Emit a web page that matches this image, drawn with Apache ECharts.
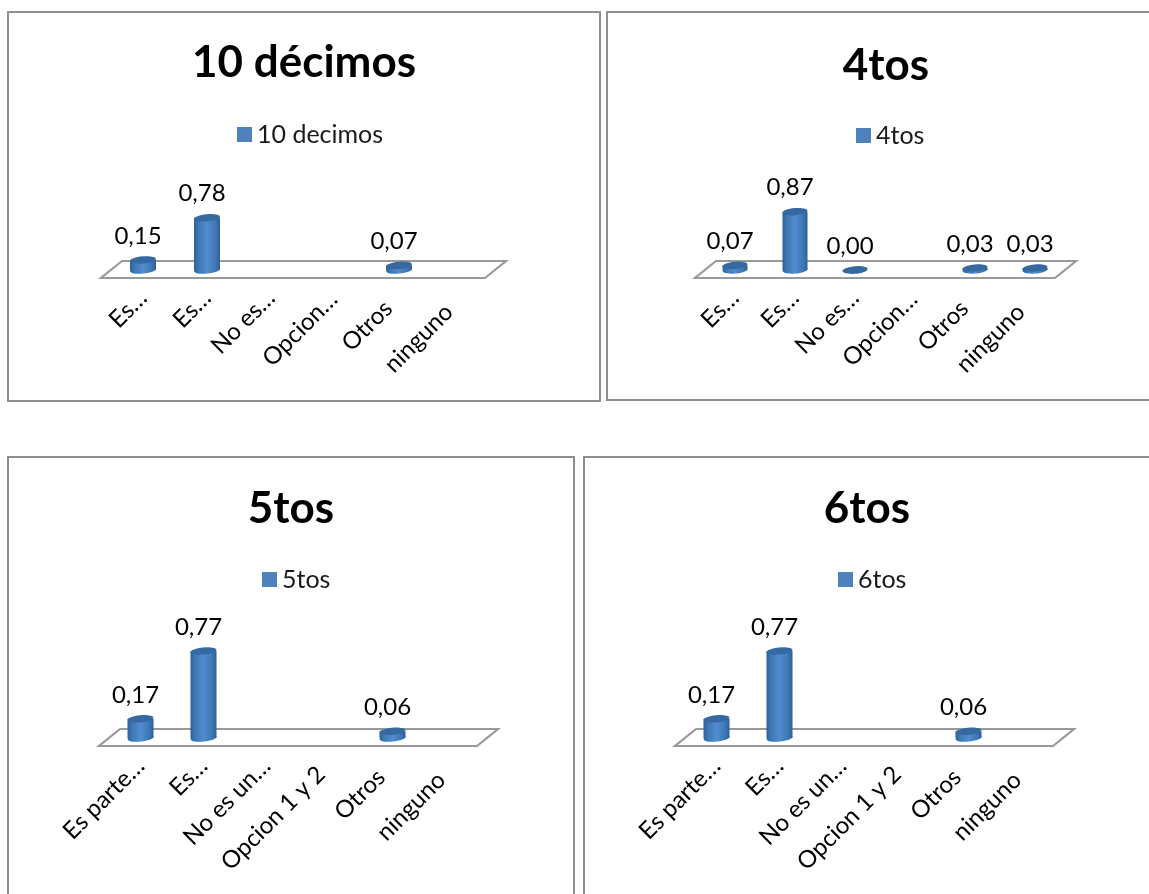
<!DOCTYPE html>
<html><head><meta charset="utf-8">
<style>html,body{margin:0;padding:0;background:#fff}#c{width:1149px;height:894px}</style>
<script src="https://cdn.jsdelivr.net/npm/echarts@6/dist/echarts.min.js"></script>
</head><body><div id="c"></div>
<script>
const titles = ['10 décimos', '4tos', '5tos', '6tos'];
const seriesNames = ['10 decimos', '4tos', '5tos', '6tos'];
const catsA = ['Es…', 'Es…', 'No es…', 'Opcion…', 'Otros', 'ninguno'];
const catsB = ['Es…', 'Es…', 'No es…', 'Opcion…', 'Otros', 'ninguno'];
const catsC = ['Es parte…', 'Es…', 'No es un…', 'Opcion 1 y 2', 'Otros', 'ninguno'];
const catsD = ['Es parte…', 'Es…', 'No es un…', 'Opcion 1 y 2', 'Otros', 'ninguno'];
const valuesA = [0.15, 0.78, null, null, 0.07, null];
const valuesB = [0.07, 0.87, 0.00, null, 0.03, 0.03];
const valuesC = [0.17, 0.77, null, null, 0.06, null];
const valuesD = [0.17, 0.77, null, null, 0.06, null];

const cats = [catsA, catsB, catsC, catsD];
const vals = [valuesA, valuesB, valuesC, valuesD];
const FONT = 'Lato';
const shiftTop = [0, 0, 0, 2, 15, 20];
const shiftBottom = [0, 0, 0, 12, 16, 20];
const layout = [
  {grid:{left:111,top:203,width:384,height:67}, tx:304, ty:41, lx:237, ly:122, bw:26, shift:shiftTop},
  {grid:{left:705,top:203,width:360,height:67}, tx:886, ty:44, lx:856, ly:123, bw:25, shift:shiftTop},
  {grid:{left:109,top:625,width:378,height:113}, tx:291, ty:487, lx:262, ly:567, bw:26, shift:shiftBottom},
  {grid:{left:685,top:625,width:378,height:113}, tx:867, ty:487, lx:838, ly:567, bw:26, shift:shiftBottom}
];
const panels = [[8,12,592,389],[607,12,560,388],[8,457,566,460],[584,457,590,460]];

function cylinder(bw){
  return function(params, api){
    const v = api.value(1);
    if (v === null || v === undefined || isNaN(v)) return null;
    const i = api.value(0);
    const base = api.coord([i, 0]);
    const top = api.coord([i, v]);
    const rx = bw / 2, ry = 3.6, tilt = 0.09;
    const grad = new echarts.graphic.LinearGradient(0,0,1,0,[
      {offset:0,color:'#2f6099'},{offset:0.18,color:'#3f78b6'},
      {offset:0.5,color:'#508ccf'},{offset:0.82,color:'#3f78b6'},{offset:1,color:'#2f5f95'}]);
    return {type:'group', children:[
      {type:'ellipse', x:base[0], y:base[1], rotation:tilt, shape:{cx:0,cy:0,rx:rx,ry:ry}, style:{fill:grad}},
      {type:'rect', shape:{x:base[0]-rx, y:top[1], width:bw, height:Math.max(base[1]-top[1],0)}, style:{fill:grad}},
      {type:'ellipse', x:top[0], y:top[1], rotation:tilt, shape:{cx:0,cy:0,rx:rx,ry:ry}, style:{fill:'#35699f'}},
      {type:'text', x:top[0]-5, y:top[1]-24, style:{
        text:v.toFixed(2).replace('.',','), fill:'#000', font:'24px '+FONT, align:'center', verticalAlign:'middle'}}
    ]};
  };
}
function floor(params, api){
  const c = params.coordSys;
  const yF = c.y + c.height + 8, yB = c.y + c.height - 9;
  const xL = c.x, xR = c.x + c.width;
  return {type:'polygon', shape:{points:[[xL-10,yF],[xR-10,yF],[xR+11,yB],[xL+11,yB]]},
    style:{fill:'#fff', stroke:'#9a9a9a', lineWidth:2.2}};
}

const option = {
  backgroundColor:'#fff', animation:false,
  title: layout.map((l,i)=>({text:titles[i], left:l.tx, top:l.ty, padding:0, textAlign:'center',
    textStyle:{fontFamily:FONT,fontWeight:'bold',fontSize:44,color:'#000'}})),
  legend: layout.map((l,i)=>({data:[seriesNames[i]], left:l.lx, top:l.ly, padding:0,
    itemWidth:15, itemHeight:15, itemGap:0, icon:'rect',
    selectedMode:false, textStyle:{fontFamily:FONT,fontSize:25,color:'#1a1a1a',padding:[0,0,0,0]}})),
  grid: layout.map(l=>Object.assign({containLabel:false},l.grid)),
  xAxis: layout.map((l,i)=>({type:'category', gridIndex:i,
    data:cats[i].map((c,j)=>({value:c, textStyle:{padding:[0,l.shift[j],0,0]}})),
    axisLine:{show:false}, axisTick:{show:false}, splitLine:{show:false},
    axisLabel:{rotate:45, interval:0, margin:24, hideOverlap:false, fontFamily:FONT, fontSize:24, color:'#000'}})),
  yAxis: layout.map((l,i)=>({type:'value', gridIndex:i, min:0, max:1, show:false})),
  series: layout.flatMap((l,i)=>[
    {type:'custom', name:'floor'+i, xAxisIndex:i, yAxisIndex:i, z:1, silent:true, clip:false,
     renderItem:floor, data:[[0,0]], encode:{x:0,y:1}},
    {type:'custom', name:seriesNames[i], xAxisIndex:i, yAxisIndex:i, z:2, clip:false,
     itemStyle:{color:'#4F81BD'}, renderItem:cylinder(l.bw),
     data:vals[i].map((v,j)=>[j,v]), encode:{x:0,y:1}}
  ]),
  graphic: panels.map(p=>({type:'rect', z:-1, silent:true,
    shape:{x:p[0],y:p[1],width:p[2],height:p[3]}, style:{fill:'#fff',stroke:'#8f8f8f',lineWidth:2}}))
};
const chart = echarts.init(document.getElementById('c'), null, {renderer:'canvas'});
chart.setOption(option);
</script></body></html>
